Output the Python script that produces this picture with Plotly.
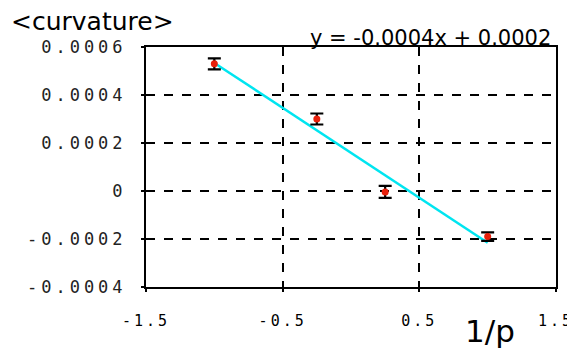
import numpy as np
import plotly.graph_objects as go

inv_p = [-1.0, -0.25, 0.25, 1.0]
curvature = [0.00053, 0.0003, -0.000004, -0.00019]
err = [0.000023, 0.000023, 0.000025, 0.000018]

x_ticks = [-1.5, -0.5, 0.5, 1.5]
x_tick_labels = ["-1.5", "-0.5", "0.5", "1.5"]
y_ticks = [-0.0004, -0.0002, 0, 0.0002, 0.0004, 0.0006]
y_tick_labels = ["-0.0004", "-0.0002", "0", "0.0002", "0.0004", "0.0006"]

slope, intercept = np.polyfit(inv_p, curvature, 1)
fit_x = [min(inv_p), max(inv_p)]
fit_y = [slope * v + intercept for v in fit_x]


def spaced(s, px):
    return '<span style="letter-spacing:%dpx">%s</span>' % (px, s)


fig = go.Figure()
fig.add_trace(go.Scatter(
    x=fit_x, y=fit_y, mode="lines",
    line=dict(color="#00e5f0", width=2.5), showlegend=False))
fig.add_trace(go.Scatter(
    x=inv_p, y=curvature, mode="markers",
    marker=dict(color="#e8200c", size=7),
    error_y=dict(type="data", array=err, color="black", thickness=2.2, width=6.5),
    showlegend=False))

mono = "DejaVu Sans Mono"
OFF = 8  # page body margin
W, H = 575 - OFF, 354 - OFF
l, t = 146 - OFF, 47 - OFF
r = W - (556 - OFF)
b = H - (287 - OFF)
pw, ph = W - l - r, H - t - b

fig.update_layout(
    width=W, height=H,
    margin=dict(l=l, r=r, t=t, b=b, autoexpand=False),
    paper_bgcolor="white", plot_bgcolor="white",
    xaxis=dict(range=[-1.5, 1.5], tickvals=x_ticks,
               ticktext=[spaced(s, 3) for s in x_tick_labels],
               showgrid=True, gridcolor="black", gridwidth=1.5, griddash="dash",
               showline=True, linecolor="black", linewidth=2, mirror=True,
               zeroline=False, ticks="outside", ticklen=3, tickwidth=2,
               tickcolor="black", ticklabelstandoff=16, automargin=False,
               tickfont=dict(family=mono, size=15, color="black")),
    yaxis=dict(range=[-0.0004, 0.0006], tickvals=y_ticks,
               ticktext=[spaced(s, 4) for s in y_tick_labels],
               showgrid=True, gridcolor="black", gridwidth=1.5, griddash="dash",
               showline=True, linecolor="black", linewidth=2, mirror=True,
               zeroline=False, ticks="outside", ticklen=3, tickwidth=2,
               tickcolor="black", ticklabelstandoff=11, automargin=False,
               tickfont=dict(family=mono, size=17, color="#222222")),
)

notes = [
    ("&lt;curvature&gt;", 9, 22, "left", 25),
    ("y = -0.0004x + 0.0002", 553, 38, "right", 21),
    ("1/p", 490, 331, "center", 31),
]
for text, px, py, anchor, size in notes:
    fig.add_annotation(
        text=text, x=(px - OFF - l) / pw, y=(H - b - (py - OFF)) / ph,
        xref="paper", yref="paper", xanchor=anchor, yanchor="middle",
        showarrow=False, font=dict(family="DejaVu Sans", size=size, color="black"))

fig.write_html("out.html")
